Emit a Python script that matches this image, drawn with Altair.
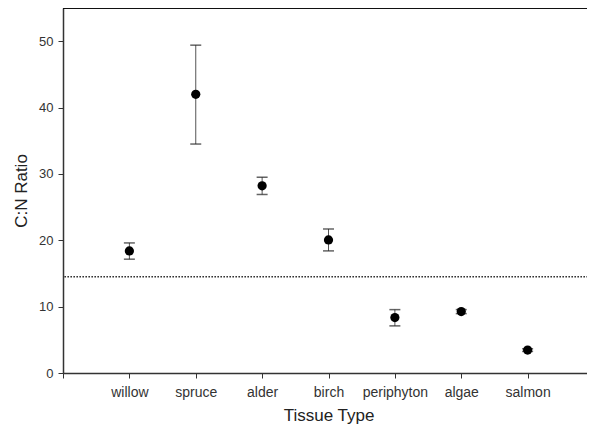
import altair as alt
import pandas as pd

categories = ["willow", "spruce", "alder", "birch", "periphyton", "algae", "salmon"]
means = [18.4, 42.0, 28.2, 20.05, 8.35, 9.25, 3.45]
lows = [17.15, 34.5, 26.9, 18.4, 7.1, 8.95, 3.25]
highs = [19.6, 49.4, 29.5, 21.7, 9.55, 9.55, 3.65]
reference_value = [14.5]
y_ticks = [0, 10, 20, 30, 40, 50]

df = pd.DataFrame({
    "pos": list(range(1, len(categories) + 1)),
    "tissue": categories,
    "mean": means,
    "low": lows,
    "high": highs,
})
ref = pd.DataFrame({"v": reference_value})

W, H = 531, 365
FONT = "Liberation Sans"

label_expr = "[" + ",".join(["''"] + [f"'{c}'" for c in categories]) + "][datum.value]"

xs = alt.X("pos:Q",
           scale=alt.Scale(domain=[0, 8], nice=False, zero=False),
           axis=alt.Axis(title="Tissue Type", values=list(range(0, 8)), labelExpr=label_expr,
                         grid=False, tickSize=5, tickColor="#333", domainColor="#333", domainWidth=1.5,
                         labelPadding=7, labelFontSize=14, labelColor="#333", labelFont=FONT,
                         titleFont=FONT, titleFontSize=17, titleFontWeight="normal", titleColor="#222",
                         titlePadding=8, labelFlush=False))
ys = alt.Y("mean:Q",
           scale=alt.Scale(domain=[0, 55], nice=False),
           axis=alt.Axis(title="C:N Ratio", values=y_ticks, grid=False, tickSize=5, tickColor="#333",
                         domainColor="#333", domainWidth=1.5, labelPadding=5, labelFontSize=13,
                         labelColor="#333", labelFont=FONT, titleFont=FONT, titleFontSize=17,
                         titleFontWeight="normal", titleColor="#222", titlePadding=8))

base = alt.Chart(df)

bars = base.mark_rule(color="#555", strokeWidth=1).encode(
    x=xs, y=alt.Y("low:Q", scale=alt.Scale(domain=[0, 55], nice=False)), y2="high:Q")
cap_lo = base.mark_tick(orient="horizontal", color="#222", thickness=1.5, size=11).encode(
    x="pos:Q", y="low:Q")
cap_hi = base.mark_tick(orient="horizontal", color="#222", thickness=1.5, size=11).encode(
    x="pos:Q", y="high:Q")
points = base.mark_circle(color="black", opacity=1, size=85).encode(x=xs, y=ys)

refline = alt.Chart(ref).mark_rule(color="#333", strokeWidth=1.6, strokeDash=[1.6, 1.4]).encode(
    y=alt.Y("v:Q"))

top_border = alt.Chart(ref).mark_rule(color="#111", strokeWidth=2).encode(
    x=alt.value(0), x2=alt.value(W), y=alt.value(0))
right_border = alt.Chart(ref).mark_rule(color="#999", strokeWidth=1).encode(
    x=alt.value(W), y=alt.value(0), y2=alt.value(H))

chart = alt.layer(refline, bars, cap_lo, cap_hi, points, top_border, right_border).properties(
    width=W, height=H,
    autosize=alt.AutoSizeParams(type="none"),
    padding={"left": 55, "top": 0, "right": -7, "bottom": 53},
).configure_view(stroke=None).configure(background="white")

chart.save("out.html", embed_options={"renderer": "svg", "actions": False})
